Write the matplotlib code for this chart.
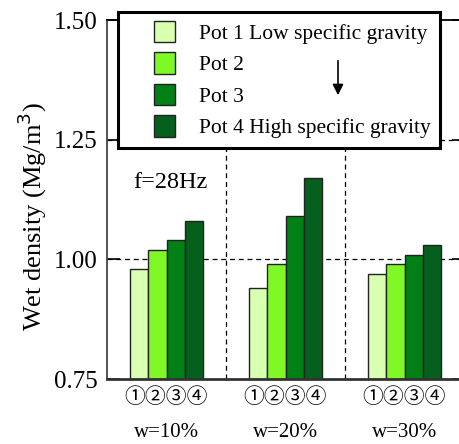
import numpy as np
import matplotlib
matplotlib.use('Agg')
from matplotlib import pyplot as plt
from matplotlib.patches import Rectangle, FancyArrowPatch
from matplotlib.legend_handler import HandlerPatch, update_from_first_child
from matplotlib.container import BarContainer

groups = ['w=10%', 'w=20%', 'w=30%']
pots = ['Pot 1 Low specific gravity', 'Pot 2', 'Pot 3', 'Pot 4 High specific gravity']
pot1 = [0.98, 0.94, 0.97]
pot2 = [1.02, 0.99, 0.99]
pot3 = [1.04, 1.09, 1.01]
pot4 = [1.08, 1.17, 1.03]
colors = ['#d9ffb0', '#80f826', '#008015', '#05601e']
circled = '①②③④'

plt.rcParams['font.family'] = ['Liberation Serif', 'DejaVu Serif']

fig = plt.figure(figsize=(4.59, 4.44), dpi=100)
W, H = 459, 444
ax = fig.add_axes([107/W, 1-379/H, (464-107)/W, (379-20)/H])

x = np.arange(len(groups))
bw = 0.153
for i, vals in enumerate([pot1, pot2, pot3, pot4]):
    ax.bar(x + (i-1.5)*bw, np.array(vals)-0.75, bw, bottom=0.75, color=colors[i],
           edgecolor='#222222', linewidth=1.0, label=pots[i], zorder=2)

ax.set_xlim(-0.5, 2.5)
ax.set_ylim(0.75, 1.5)
ax.set_yticks([0.75, 1.00, 1.25, 1.50])
ax.set_yticklabels(['0.75', '1.00', '1.25', '1.50'], fontsize=18)
ax.set_xticks([])
for yy in [1.00, 1.25]:
    ax.axhline(yy, color='black', ls=(0, (4, 3)), lw=0.9, zorder=1)
for xx in [0.5, 1.5]:
    ax.axvline(xx, color='black', ls=(0, (4, 3)), lw=0.9, zorder=1)
ax.tick_params(axis='y', direction='in', length=9, width=1.2, right=True, pad=7)
for s in ax.spines.values():
    s.set_linewidth(1.3)
ax.spines['left'].set_color('#444444')
ax.spines['bottom'].set_color('#333333')
ax.spines['bottom'].set_linewidth(2)

fig.text(32/W, 1-217/H, 'Wet density (Mg/m$^3$)', rotation=90, ha='center', va='center',
         fontsize=19)

for xi, g in zip(x, groups):
    ax.text(xi, -0.05, circled, transform=ax.get_xaxis_transform(), ha='center', va='center',
            fontsize=15, family=['Noto Sans CJK JP', 'DejaVu Sans'])
    ax.text(xi, -0.15, g, transform=ax.get_xaxis_transform(), ha='center', va='center',
            fontsize=15)

fig.text(133/W, 1-183/H, 'f=28Hz', ha='left', va='center', fontsize=17.5)


# square legend keys pushed to the right end of the handle box
def square_key(legend, orig_handle, xdescent, ydescent, width, height, fontsize):
    side = 1.0 * fontsize
    return Rectangle((width - side - xdescent, -ydescent + (height - side) / 2), side, side)


leg = fig.legend(loc='upper left', bbox_to_anchor=(118/W, 1-12/H), borderaxespad=0,
                 fontsize=15.5, handlelength=2.2, handleheight=1.0, handletextpad=1.1,
                 labelspacing=0.44, borderpad=0.45, fancybox=False, framealpha=1,
                 edgecolor='black',
                 handler_map={BarContainer: HandlerPatch(patch_func=square_key,
                                                         update_func=update_from_first_child)})
leg.get_frame().set_linewidth(2.2)
leg.set_zorder(5)

fig.add_artist(FancyArrowPatch((338/W, 1-58/H), (338/W, 1-98/H),
               transform=fig.transFigure, arrowstyle='-|>', mutation_scale=16,
               color='black', lw=1.2, zorder=6))

fig.savefig('out.png', dpi=100)
